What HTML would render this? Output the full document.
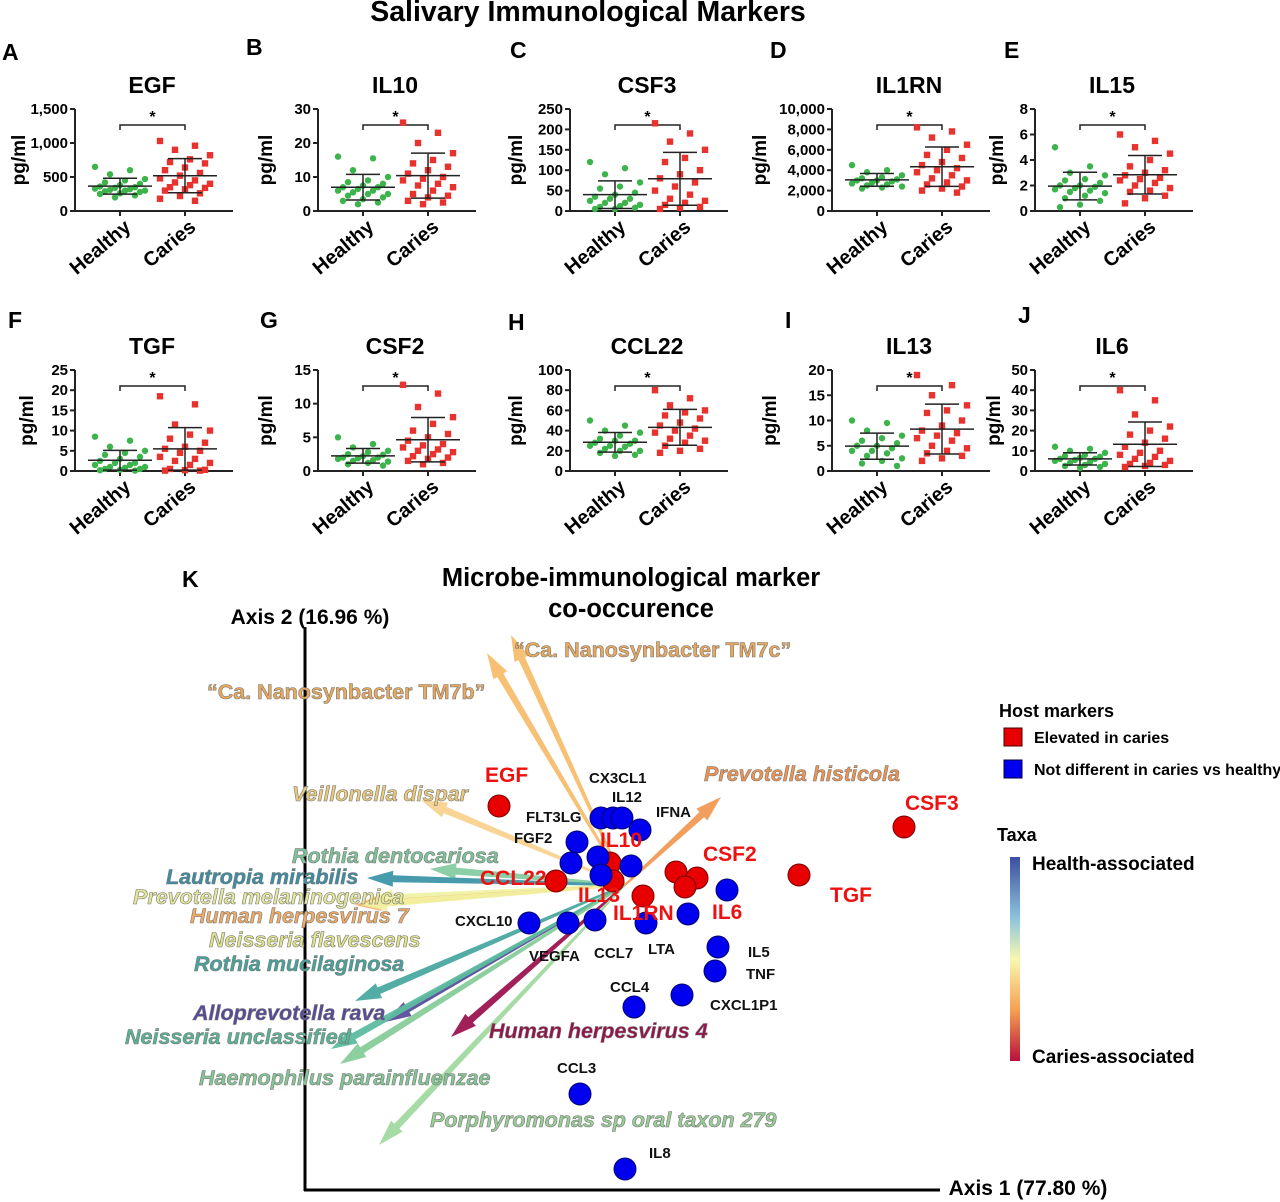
<!DOCTYPE html>
<html><head><meta charset="utf-8"><style>
body{margin:0;background:#fff}
svg{display:block;font-family:"Liberation Sans",Arial,sans-serif}
</style></head><body>
<svg id="fig" width="1280" height="1202" viewBox="0 0 1280 1202" xmlns="http://www.w3.org/2000/svg">
<text x="588" y="21" text-anchor="middle" font-size="28.5" font-weight="bold">Salivary Immunological Markers</text>
<g id="panels"></g>
<g id="biplot"></g>
</svg>
<script>
// ---------- dot plot data ----------
const panelNames = ["EGF","IL10","CSF3","IL1RN","IL15","TGF","CSF2","CCL22","IL13","IL6"];
const panelLetters = ["A","B","C","D","E","F","G","H","I","J"];
const healthyEGF=[650,600,540,470,450,420,400,380,360,350,340,330,320,310,300,300,290,280,260,250,230,200];
const cariesEGF=[1030,960,900,820,760,720,700,640,600,560,520,480,450,420,400,380,350,340,320,300,260,220,180,150];
const healthyIL10=[16,15.5,12,10,9,8.5,8,7.5,7,7,6.5,6,6,5.5,5,5,4.5,4,3.5,3,2.5,2];
const cariesIL10=[26,23,20,17,15,14,13,12,11,10,9.5,9,8,7.5,7,6,5,4.5,4,3,2.5,2];
const healthyCSF3=[120,105,90,70,60,55,45,40,35,30,30,25,20,20,15,12,10,8,5,5];
const cariesCSF3=[215,190,170,150,130,120,100,90,80,70,60,50,40,30,25,20,15,10,8,5];
const healthyIL1RN=[4500,4000,3800,3500,3300,3200,3100,3000,3000,2900,2800,2700,2600,2500,2400,2300,2200];
const cariesIL1RN=[8200,7800,7200,6500,6000,5500,5200,4800,4500,4200,4000,3800,3500,3200,3000,2800,2600,2400,2200,2000,1800];
const healthyIL15=[5,3.5,3,2.8,2.5,2.4,2.2,2,2,1.9,1.8,1.7,1.6,1.5,1.4,1.2,1,0.8,0.5,0.3];
const cariesIL15=[6,5.5,5,4.5,4,3.5,3.2,3,2.8,2.6,2.5,2.4,2.2,2,1.8,1.6,1.5,1.2,1,0.6];
const healthyTGF=[8.5,7.5,6,5,4.5,4,3.5,3,2.5,2,2,1.5,1.5,1,1,0.8,0.5,0.5,0.3,0.2,0.1];
const cariesTGF=[18.5,16.5,11.5,10,9,8,7,6,5.5,5,4.5,3.5,3,2.5,2,1.5,0.5,0.3,0.2,0.1,0.1];
const healthyCSF2=[5,4,3.5,3,2.8,2.5,2.4,2.2,2,2,1.9,1.8,1.6,1.5,1.4,1.2,1,0.8];
const cariesCSF2=[12.8,11.5,9.5,8,7,6,5.5,5,4.5,4,3.8,3.5,3.2,3,2.8,2.5,2.2,2,1.8,1.5,1.2,1];
const healthyCCL22=[50,45,40,38,35,32,30,30,28,27,25,25,24,22,20,20,18,16,15];
const cariesCCL22=[80,72,65,60,58,55,52,48,45,42,40,38,35,32,30,28,25,22,20,18];
const healthyIL13=[10,9.5,8,7,6.5,6,5.5,5,5,4.5,4,4,3.5,3,2.5,2,1.5,1];
const cariesIL13=[19,17,15,13,12,11.5,10,9,8,7.5,7,6.5,6,5,4.5,4,3.5,3,2.5,2];
const healthyIL6=[12,11,10,9,8,7.5,7,6.5,6,6,5.5,5,4.5,4,3.5,3,2.5,2,1.5];
const cariesIL6=[40,35,28,22,20,18,16,14,12,10,9,8,7,6,5,4,3.5,3,2.5,2];
const healthySeries=[healthyEGF,healthyIL10,healthyCSF3,healthyIL1RN,healthyIL15,healthyTGF,healthyCSF2,healthyCCL22,healthyIL13,healthyIL6];
const cariesSeries=[cariesEGF,cariesIL10,cariesCSF3,cariesIL1RN,cariesIL15,cariesTGF,cariesCSF2,cariesCCL22,cariesIL13,cariesIL6];
const yMaxes=[1500,30,250,10000,8,25,15,100,20,50];
const tickSteps=[500,10,50,2000,2,5,5,20,5,10];
const groupLabels=["Healthy","Caries"];

// ---------- biplot data (ordination units) ----------
const markerNames=["EGF","CSF3","TGF","CSF2","CSF2","CSF2","IL1RN","CCL22","IL10","IL13",
 "FLT3LG","CX3CL1","IL12","IFNA","FGF2","m1","m2","m3","m4","IL6","IL1RN","LTA","CCL7","VEGFA","CXCL10","IL5","TNF","CXCL1P1","CCL4","CCL3","IL8"];
const markerX=[-0.47,0.88,0.53,0.12,0.19,0.15,0.01,-0.28,-0.10,-0.09,
 -0.13,-0.09,-0.06,0.00,-0.21,-0.23,-0.14,-0.13,-0.03,0.29,0.16,0.02,-0.15,-0.24,-0.37,0.26,0.25,0.14,-0.02,-0.20,-0.05];
const markerY=[0.28,0.21,0.05,0.06,0.04,0.01,-0.02,0.03,0.09,0.03,
 0.24,0.24,0.24,0.20,0.16,0.09,0.11,0.05,0.08,0.00,-0.08,-0.11,-0.10,-0.11,-0.11,-0.19,-0.27,-0.35,-0.39,-0.68,-0.93];
const markerElevated=[1,1,1,1,1,1,1,1,1,1,0,0,0,0,0,0,0,0,0,0,0,0,0,0,0,0,0,0,0,0,0];
const taxaNames=["TM7b","TM7c","Veillonella dispar","Prevotella histicola","Rothia dentocariosa","Lautropia mirabilis","Prevotella melaninogenica","Human herpesvirus 7","Neisseria flavescens","Rothia mucilaginosa","Alloprevotella rava","Neisseria unclassified","Haemophilus parainfluenzae","Human herpesvirus 4","Porphyromonas sp oral taxon 279"];
const taxaX=[-0.51,-0.43,-0.73,0.27,-0.70,-0.91,-0.91,-0.95,-0.93,-0.95,-0.85,-1.03,-1.00,-0.63,-0.87];
const taxaY=[0.79,0.85,0.30,0.31,0.07,0.04,-0.03,-0.05,-0.05,-0.37,-0.44,-0.53,-0.58,-0.49,-0.85];
const taxaColors=["#f6bd6e","#f6bd6e","#f8d391","#f19a55","#86cba0","#3d96a8","#eef2a8","#f5b26b","#f2f0a0","#4aa9a1","#5b4d9c","#5cbca0","#88cc9a","#9d1450","#a2d9a0"];

const NS="http://www.w3.org/2000/svg";
function mk(tag,attrs,parent,text){const e=document.createElementNS(NS,tag);for(const k in attrs)e.setAttribute(k,attrs[k]);if(text!==undefined)e.textContent=text;parent.appendChild(e);return e;}
function fmt(v){return v>=1000?v.toLocaleString('en-US'):String(v);}

// panel geometry (layout)
const axX=[75,318,570,832,1035,75,318,570,832,1035];
const ylOff=[50,46,48,66,32,42,46,48,56,35];
const row=[0,0,0,0,0,1,1,1,1,1];
const rowBottom=[211,471];
const rowTop=[109,370];
const letterPos=[[2,60],[246,55],[510,58],[770,58],[1004,58],[8,328],[260,328],[508,330],[785,328],[1018,323]];

const panels=document.getElementById('panels');
for(let p=0;p<10;p++){
  const g=mk('g',{},panels);
  
  
  const x0=axX[p], yb=rowBottom[row[p]], yt=rowTop[row[p]];
  const ys=v=>yb-(v/yMaxes[p])*(yb-yt);
  const xH=x0+45, xC=x0+110;
  const lt=mk('text',{x:letterPos[p][0],y:letterPos[p][1],'font-size':23,'font-weight':'bold'},g,panelLetters[p]);
  
  const tt=mk('text',{x:x0+77,y:yt-16,'text-anchor':'middle','font-size':23,'font-weight':'bold'},g,panelNames[p]);
  
  mk('line',{x1:x0,y1:yt,x2:x0,y2:yb,stroke:'#222','stroke-width':2},g);
  mk('line',{x1:x0,y1:yb,x2:x0+158,y2:yb,stroke:'#222','stroke-width':2},g);
  for(let v=0;v<=yMaxes[p];v+=tickSteps[p]){
    const y=ys(v);
    mk('line',{x1:x0-5,y1:y,x2:x0,y2:y,stroke:'#222','stroke-width':2},g);
    const t=mk('text',{x:x0-7,y:y+5,'text-anchor':'end','font-size':15,'font-weight':'bold'},g,fmt(v));
    
  }
  const yl=mk('text',{x:0,y:0,transform:`translate(${x0-ylOff[p]},${(yt+yb)/2}) rotate(-90)`,'text-anchor':'middle','font-size':19,'font-weight':'bold'},g,'pg/ml');
  
  [xH,xC].forEach((cx,gi)=>{
    const lbl=mk('text',{x:0,y:0,transform:`translate(${cx+12},${yb+18}) rotate(-40)`,'text-anchor':'end','font-size':20,'font-weight':'bold'},g,groupLabels[gi]);
    
    mk('line',{x1:cx,y1:yb,x2:cx,y2:yb+5,stroke:'#222','stroke-width':2},g);
  });
  const by=yt+16;
  mk('path',{d:`M${xH},${by+5}V${by}H${xC}V${by+5}`,fill:'none',stroke:'#222','stroke-width':1.5},g);
  mk('text',{x:(xH+xC)/2,y:by-3,'text-anchor':'middle','font-size':16,'font-weight':'bold'},g,'*');
  [healthySeries[p],cariesSeries[p]].forEach((arr,gi)=>{
    const cx=gi?xC:xH;
    arr.forEach((v,i)=>{
      const jx=cx+(((i*7)%11)-5)*5;
      let d;
      if(gi===0){d=mk('circle',{cx:jx,cy:ys(v),r:3.2,fill:'#3cb44b'},g);}
      else{d=mk('rect',{x:jx-3.2,y:ys(v)-3.2,width:6.4,height:6.4,fill:'#e8322e'},g);}
      
      
    });
    const m=arr.reduce((a,b)=>a+b,0)/arr.length;
    const sd=Math.sqrt(arr.reduce((a,b)=>a+(b-m)*(b-m),0)/(arr.length-1));
    const lo=Math.max(0,m-sd);
    mk('line',{x1:cx-32,y1:ys(m),x2:cx+32,y2:ys(m),stroke:'#222','stroke-width':1.5},g);
    mk('line',{x1:cx,y1:ys(lo),x2:cx,y2:ys(m+sd),stroke:'#222','stroke-width':1.5},g);
    mk('line',{x1:cx-17,y1:ys(m+sd),x2:cx+17,y2:ys(m+sd),stroke:'#222','stroke-width':1.5},g);
    mk('line',{x1:cx-17,y1:ys(lo),x2:cx+17,y2:ys(lo),stroke:'#222','stroke-width':1.5},g);
  });
}

// ---------- biplot ----------
const B=document.getElementById('biplot');
const bx=v=>640+v*300, by=v=>890-v*300;
function T(x,y,s,attrs,name){const t=mk('text',Object.assign({x:x,y:y},attrs),B,s);return t;}
T(182,587,'K',{'font-size':23,'font-weight':'bold'},'panel-letter');
T(631,586,'Microbe-immunological marker',{'font-size':25.5,'font-weight':'bold','text-anchor':'middle'},'biplot-title');
T(631,617,'co-occurence',{'font-size':25.5,'font-weight':'bold','text-anchor':'middle'},'biplot-title');
T(310,624,'Axis 2 (16.96 %)',{'font-size':21,'font-weight':'bold','text-anchor':'middle'},'y-axis-title');
T(1028,1195,'Axis 1 (77.80 %)',{'font-size':21,'font-weight':'bold','text-anchor':'middle'},'x-axis-title');
mk('line',{x1:305,y1:627,x2:305,y2:1191,stroke:'#000','stroke-width':3},B);
mk('line',{x1:304,y1:1190,x2:940,y2:1190,stroke:'#000','stroke-width':3},B);

const ox=625, oy=885;
taxaNames.forEach((n,i)=>{
  const tx=bx(taxaX[i]), ty=by(taxaY[i]);
  const dx=tx-ox, dy=ty-oy, L=Math.hypot(dx,dy), ux=dx/L, uy=dy/L, px=-uy, py=ux;
  const hl=26, sw=3.5, hw=8;
  const bx0=tx-ux*hl, by0=ty-uy*hl;
  const pts=[[ox+px*1,oy+py*1],[bx0+px*sw,by0+py*sw],[bx0+px*hw,by0+py*hw],[tx,ty],[bx0-px*hw,by0-py*hw],[bx0-px*sw,by0-py*sw],[ox-px*1,oy-py*1]];
  const a=mk('polygon',{points:pts.map(q=>q.join(',')).join(' '),fill:taxaColors[i],opacity:0.95},B);
  
  
});

markerNames.forEach((n,i)=>{
  const c=mk('circle',{cx:bx(markerX[i]),cy:by(markerY[i]),r:11,fill:markerElevated[i]?'#e80000':'#0000ee',stroke:markerElevated[i]?'#700':'#000070','stroke-width':1},B);
  
  
});

const redLbl=[["EGF",485,782],["CSF3",905,810],["TGF",830,902],["CSF2",703,861],["IL1RN",613,920],["CCL22",480,885],["IL10",600,847],["IL13",578,902],["IL6",712,919]];
redLbl.forEach(l=>T(l[1],l[2],l[0],{'font-size':21,'font-weight':'bold',fill:'#ee1111'},'marker-label'));
const blkLbl=[["CX3CL1",589,783],["IL12",612,802],["IFNA",656,817],["FLT3LG",526,822],["FGF2",514,843],["CXCL10",455,926],["VEGFA",529,961],["CCL7",594,958],["LTA",648,954],["IL5",748,957],["TNF",746,979],["CXCL1P1",710,1010],["CCL4",610,992],["CCL3",557,1073],["IL8",649,1158]];
blkLbl.forEach(l=>T(l[1],l[2],l[0],{'font-size':15,'font-weight':'bold',fill:'#111'},'marker-label'));

const tl=[["\u201CCa. Nanosynbacter TM7c\u201D",514,657,'#e9a85a'],["\u201CCa. Nanosynbacter TM7b\u201D",207,699,'#e9a85a'],["Veillonella dispar",292,801,'#e9c97a',1],["Prevotella histicola",704,781,'#ee9450',1],["Rothia dentocariosa",292,863,'#7cc398',1],["Lautropia mirabilis",166,884,'#3a8ea4',1],["Prevotella melaninogenica",133,904,'#e3e89a',1],["Human herpesvirus 7",190,923,'#f0aa62',1],["Neisseria flavescens",209,947,'#dfe38a',1],["Rothia mucilaginosa",194,971,'#45a39b',1],["Alloprevotella rava",193,1020,'#574a98',1],["Neisseria unclassified",125,1044,'#58b496',1],["Haemophilus parainfluenzae",199,1085,'#84c596',1],["Human herpesvirus 4",489,1038,'#971248',1],["Porphyromonas sp oral taxon 279",430,1127,'#98cd96',1]];
tl.forEach(l=>{const a={'font-size':21.5,'font-weight':'bold',fill:l[3],stroke:'#777','stroke-width':0.6};if(l[4])a['font-style']='italic';T(l[1],l[2],l[0],a,'taxa-label');});

T(999,717,'Host markers',{'font-size':18,'font-weight':'bold'},'legend-title');
let r1=mk('rect',{x:1004,y:728,width:18,height:18,fill:'#e80000',stroke:'#400','stroke-width':1},B);

T(1034,743,'Elevated in caries',{'font-size':16,'font-weight':'bold'},'legend-entry');
let r2=mk('rect',{x:1004,y:760,width:18,height:18,fill:'#0000ee',stroke:'#000040','stroke-width':1},B);

T(1034,775,'Not different in caries vs healthy',{'font-size':16,'font-weight':'bold'},'legend-entry');
T(997,841,'Taxa',{'font-size':18,'font-weight':'bold'},'legend-title');
const defs=mk('defs',{},B);
const lg=mk('linearGradient',{id:'cb',x1:0,y1:0,x2:0,y2:1},defs);
[["0","#3b4fa0"],["0.3","#8cc4dc"],["0.5","#f8f8b0"],["0.75","#f6a050"],["1","#b8103c"]].forEach(s=>mk('stop',{offset:s[0],'stop-color':s[1]},lg));
let cb=mk('rect',{x:1010,y:857,width:10,height:204,fill:'url(#cb)'},B);

T(1032,870,'Health-associated',{'font-size':19,'font-weight':'bold'},'colorbar-label');
T(1032,1063,'Caries-associated',{'font-size':19,'font-weight':'bold'},'colorbar-label');
</script>
</body></html>
